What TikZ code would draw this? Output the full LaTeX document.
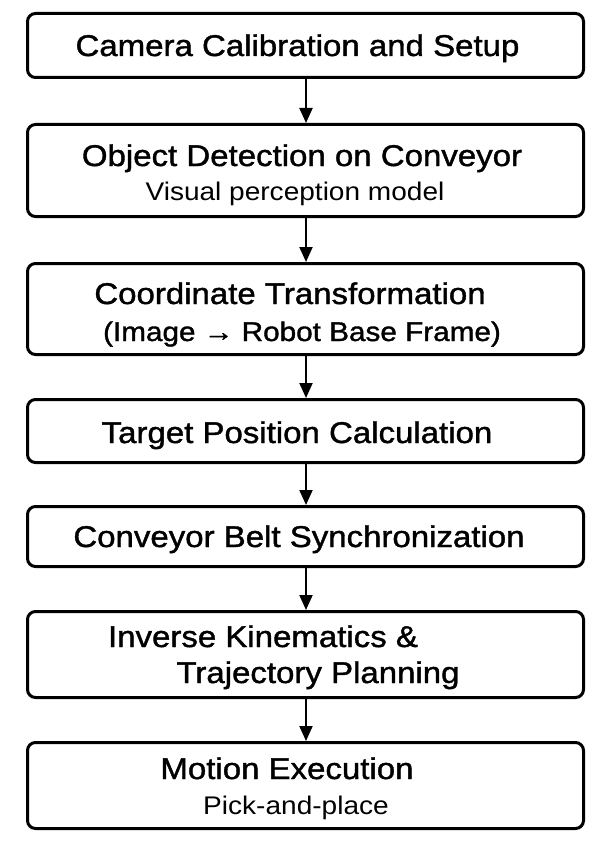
\documentclass[tikz,border=0pt]{standalone}
\usepackage{fontspec}
\setmainfont[FakeStretch=1.1]{Liberation Sans}
\newfontfamily\headfont[FakeStretch=1.1, FakeBold=1.3]{Liberation Sans}
\usetikzlibrary{arrows.meta}

\tikzset{
  stepbox/.style={draw=black, line width=3pt, rounded corners=8pt,
    minimum width=556pt, inner sep=0pt, fill=white},
  title/.style={anchor=base, inner sep=0pt, font=\headfont\fontsize{30}{36}\selectfont},
  subtitle/.style={anchor=base, inner sep=0pt, font=\fontsize{25.5}{31}\selectfont},
  flow/.style={line width=2pt, -{Triangle[width=13pt,length=15pt]}}
}

\begin{document}
\begin{tikzpicture}[x=1pt, y=-1pt]
  \useasboundingbox (0,0) rectangle (608,856);

  % process stages
  \node[stepbox, minimum height=64pt] (s1) at (305.5,45.5) {};
  \node[stepbox, minimum height=92pt] (s2) at (305.5,170.5) {};
  \node[stepbox, minimum height=91pt] (s3) at (305.5,309) {};
  \node[stepbox, minimum height=63pt] (s4) at (305.5,431) {};
  \node[stepbox, minimum height=60pt] (s5) at (305.5,536.5) {};
  \node[stepbox, minimum height=86pt] (s6) at (305.5,654.5) {};
  \node[stepbox, minimum height=86pt] (s7) at (305.5,785.5) {};

  % stage labels
  \node[title] (t1) at (297.5,56) {Camera Calibration and Setup};
  \node[title] (t2) at (302,166) {Object Detection on Conveyor};
  \node[subtitle] (u2) at (295,200) {Visual perception model};
  \node[title] (t3) at (290,304) {Coordinate Transformation};
  \node[title, font=\headfont\fontsize{27}{33}\selectfont] (u3) at (302,341) {(Image → Robot Base Frame)};
  \node[title] (t4) at (297,443) {Target Position Calculation};
  \node[title] (t5) at (299,547) {Conveyor Belt Synchronization};
  \node[title] (t6) at (263,647) {Inverse Kinematics \&};
  \node[title] (u6) at (318,683) {Trajectory Planning};
  \node[title] (t7) at (287,779) {Motion Execution};
  \node[subtitle] (u7) at (296,814) {Pick-and-place};

  % flow between stages
  \foreach \a/\b in {s1/s2, s2/s3, s3/s4, s4/s5, s5/s6, s6/s7}
    \draw[flow] ([xshift=0.5pt]\a.south) -- ([xshift=0.5pt]\b.north);
\end{tikzpicture}
\end{document}
